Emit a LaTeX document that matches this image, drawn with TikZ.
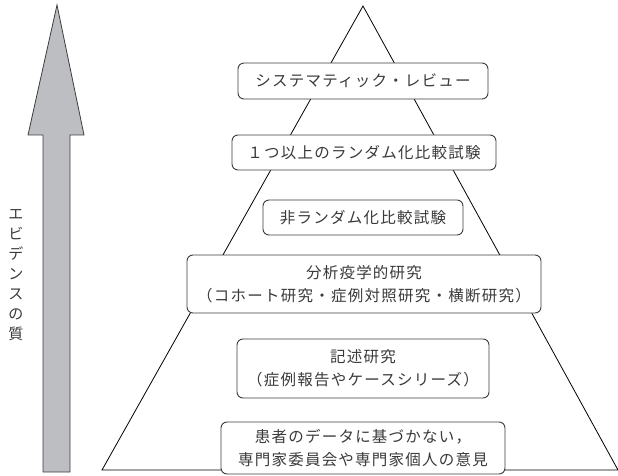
\documentclass[tikz,border=0pt]{standalone}
\usepackage{fontspec}
\setmainfont{Noto Sans CJK JP}
\newfontfamily\jp[LetterSpace=8]{Noto Sans CJK JP}
\definecolor{txt}{HTML}{3A3A3A}
\definecolor{edge}{HTML}{3C3C3C}
\definecolor{arrfill}{HTML}{BDBEC2}
\begin{document}
\begin{tikzpicture}[x=1pt,y=-1pt,
  level/.style={draw=edge, line width=0.9pt, fill=white, rounded corners=6pt,
    inner sep=0pt, align=center, text=txt, font=\jp\fontsize{15.5}{23}\selectfont},
  tri/.style={draw=black, line width=0.8pt, line join=miter}]
\useasboundingbox (0,0) rectangle (618,476);
% evidence arrow
\coordinate (tip) at (57,5);
\draw[draw=edge, line width=0.8pt, fill=arrfill]
  (tip) -- (84,135) -- (70,135) -- (70,472) -- (43,472) -- (43,135) -- (28,135) -- cycle;
\node[text=txt, align=center, font=\fontsize{15}{20}\selectfont, inner sep=0pt]
  (quality) at (16,275) {エ\\ビ\\デ\\ン\\ス\\の\\質};
% pyramid
\coordinate (apex) at (363,6);
\coordinate (bl) at (102,470);
\coordinate (br) at (618,470);
\draw[tri] (bl) -- (apex) -- (br) -- cycle;
% levels
\node[level, minimum width=250pt, minimum height=36pt] (l1) at (363,81)
  {システマティック・レビュー};
\node[level, minimum width=264pt, minimum height=35pt] (l2) at (364,152.5)
  {１つ以上のランダム化比較試験};
\node[level, minimum width=200pt, minimum height=35pt] (l3) at (363,217.5)
  {非ランダム化比較試験};
\node[level, minimum width=354pt, minimum height=58pt] (l4) at (364,284)
  {分析疫学的研究\\（コホート研究・症例対照研究・横断研究）};
\node[level, minimum width=252pt, minimum height=59pt] (l5) at (363,368.5)
  {記述研究\\（症例報告やケースシリーズ）};
\node[level, minimum width=284pt, minimum height=52pt] (l6) at (363,448)
  {患者のデータに基づかない，\\専門家委員会や専門家個人の意見};
\end{tikzpicture}
\end{document}
